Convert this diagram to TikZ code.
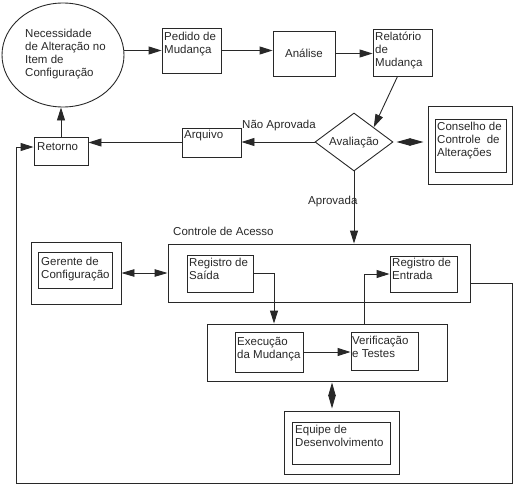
\documentclass[tikz,border=0pt]{standalone}
\usepackage{fontspec}
\setmainfont{Liberation Sans}
\usetikzlibrary{arrows.meta,shapes.geometric}
\definecolor{ink}{RGB}{40,40,40}
\tikzset{
  box/.style={draw=ink, line width=0.9pt, inner sep=0pt, minimum width=#1},
  txt/.style={text=ink, font=\fontsize{11.5}{13}\selectfont, align=left, inner sep=0pt, anchor=north west},
  conn/.style={draw=ink, line width=0.9pt},
  arr/.style={conn, -{Triangle[length=13pt,width=8pt]}},
  dbl/.style={conn, {Triangle[length=13pt,width=7.5pt]}-{Triangle[length=13pt,width=7.5pt]}},
  meet/.style={conn, {Triangle[length=#1,width=7.5pt]}-{Triangle[length=#1,width=7.5pt]}},
}
\begin{document}
\begin{tikzpicture}[x=1pt,y=-1pt]
\useasboundingbox (0,0) rectangle (521,487);
% top row
\node[draw=ink, line width=0.9pt, ellipse, minimum width=122pt, minimum height=104pt, inner sep=0pt] (ell) at (63,55) {};
\node[txt] (tell) at (25,29) {Necessidade\\de Alteração no\\Item de\\Configuração};
\node[box=59pt, minimum height=45pt] (ped) at (191.5,50.5) {};
\node[txt] (tped) at (164,32) {Pedido de\\Mudança};
\node[box=62pt, minimum height=45pt] (ana) at (304,53.5) {};
\node[txt, anchor=center] (tana) at (304,53) {Análise};
\node[box=59pt, minimum height=47pt] (rel) at (402.5,52.5) {};
\node[txt] (trel) at (375,32) {Relatório\\de\\Mudança};
% evaluation row
\node[draw=ink, line width=0.9pt, diamond, minimum width=78pt, minimum height=58pt, inner sep=0pt] (aval) at (354,142) {};
\node[txt, anchor=center] (taval) at (354,143) {Avaliação};
\node[box=84pt, minimum height=78pt] (conso) at (470,145) {};
\node[box=71pt, minimum height=53pt] (cons) at (470.5,145.5) {};
\node[txt] (tcons) at (437,122) {Conselho de\\Controle\hspace{3pt} de\\Alterações};
\node[box=59pt, minimum height=29pt] (arq) at (211.5,142.5) {};
\node[txt] (tarq) at (184,130) {Arquivo};
\node[box=54pt, minimum height=28pt] (ret) at (61,151) {};
\node[txt] (tret) at (37,142) {Retorno};
\node[txt] (lnao) at (242,120) {Não Aprovada};
\node[txt] (lapr) at (308,196) {Aprovada};
% access control
\node[txt] (lacc) at (173,227) {Controle de Acesso};
\node[box=90pt, minimum height=62pt] (gero) at (76,273) {};
\node[box=74pt, minimum height=36pt] (ger) at (75,270) {};
\node[txt] (tger) at (41,257) {Gerente de\\Configuração};
\node[box=302pt, minimum height=58pt] (ctrl) at (319,273) {};
\node[box=66pt, minimum height=37pt] (sai) at (220,273.5) {};
\node[txt] (tsai) at (189,258) {Registro de\\Saída};
\node[box=67pt, minimum height=36pt] (ent) at (423.5,274) {};
\node[txt] (tent) at (392,258) {Registro de\\Entrada};
% execution
\node[box=240pt, minimum height=57pt] (low) at (327,352.5) {};
\node[box=68pt, minimum height=40pt] (exe) at (269,352) {};
\node[txt] (texe) at (237,337) {Execução\\da Mudança};
\node[box=67pt, minimum height=38pt] (ver) at (384.5,351) {};
\node[txt] (tver) at (352,336) {Verificação\\e Testes};
\node[box=115pt, minimum height=63pt] (eqo) at (341.5,442.5) {};
\node[box=98pt, minimum height=42pt] (eq) at (341,443) {};
\node[txt] (teq) at (295,425) {Equipe de\\Desenvolvimento};
% helper coordinates
\coordinate (c1) at (274,0);
\coordinate (c2) at (364,0);
\coordinate (c3) at (332,0);
\coordinate (c4) at (512,483);
\coordinate (c5) at (16,483);
% connectors
\draw[arr] (ell.east |- ped.west) -- (ped.west);
\draw[arr] (ped.east) -- (ped.east -| ana.west);
\draw[arr] (ana.east) -- (ana.east -| rel.west);
\draw[arr] ([xshift=-5pt]rel.south) -- (aval.north east);
\draw[meet=14pt, shorten <=3pt, shorten >=4pt] (aval.east) -- (aval.east -| conso.west);
\draw[arr] (aval.west) -- (aval.west -| arq.east);
\draw[arr] (arq.west) -- (arq.west -| ret.east);
\draw[arr] (ret.north) -- (ret.north |- ell.south);
\draw[arr] (aval.south) -- (aval.south |- ctrl.north);
\draw[dbl] (gero.east) -- (gero.east -| ctrl.west);
\draw[arr] (sai.east) -| (c1 |- low.north);
\draw[arr] (c2 |- low.north) |- (ent.west);
\draw[arr] (exe.east) -- (exe.east -| ver.west);
\draw[meet=13.5pt, shorten <=1pt, shorten >=2pt] (c3 |- low.south) -- (c3 |- eqo.north);
\draw[arr] ([yshift=-10pt]ctrl.east) -| (c4) -- (c5) |- ([yshift=4pt]ret.west);
\end{tikzpicture}
\end{document}
